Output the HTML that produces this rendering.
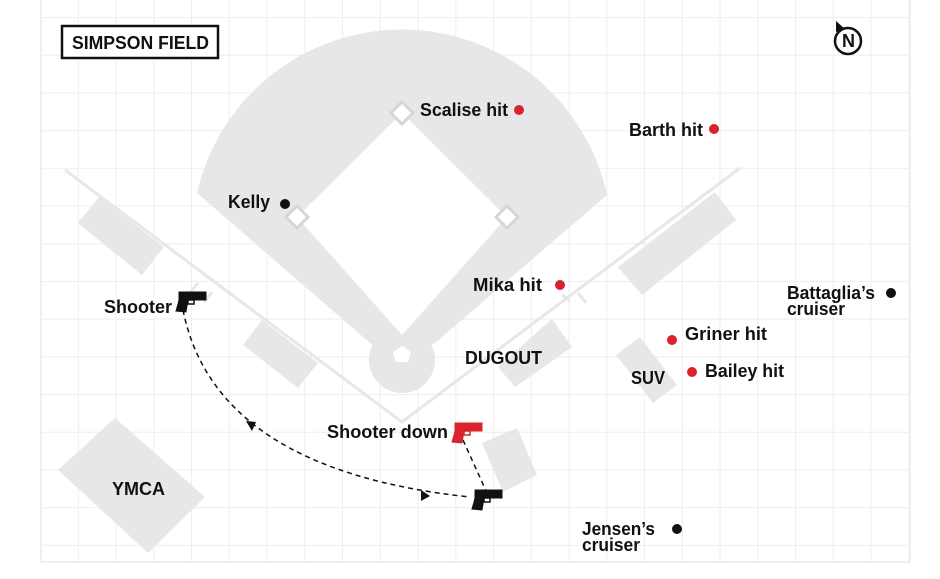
<!DOCTYPE html>
<html><head><meta charset="utf-8"><style>
html,body{margin:0;padding:0;background:#fff}
svg{display:block}
text{font-family:"Liberation Sans",sans-serif;font-size:18px;fill:#111;font-weight:bold}
</style></head><body>
<svg width="940" height="579" viewBox="0 0 940 579" xmlns="http://www.w3.org/2000/svg">
<defs>
<pattern id="g" x="40" y="17" width="37.75" height="37.7" patternUnits="userSpaceOnUse">
<path d="M0 0V37.7M0 0H37.75" stroke="#efefef" stroke-width="2.2" fill="none"/>
</pattern>
<g id="gun">
<path d="M3 0H30V8H3Z"/>
<path d="M3 8H12L10 20L0 19L2 12Z"/>
<path d="M12 8H18V12H12Z" fill="none" stroke-width="1.5"/>
</g>
</defs>
<rect x="40" y="0" width="871" height="563" fill="url(#g)"/>
<rect x="40" y="0" width="2" height="563" fill="#efefef"/>
<rect x="909" y="0" width="2" height="563" fill="#efefef"/>
<rect x="40" y="561" width="871" height="2" fill="#efefef"/>

<path d="M65 170L402 422L740 168" stroke="#e6e7e8" stroke-width="3" fill="none"/>
<path d="M198 283l-8 10M212 292l-8 10M578 293l8 10M570 301l-8-6" stroke="#e6e7e8" stroke-width="3"/>

<path d="M197 193A210 210 0 0 1 607 195L435 343L402 360L370 343Z" fill="#e6e7e8"/>
<circle cx="402" cy="360" r="33" fill="#e6e7e8"/>
<path d="M402 113L507 217L402 335L297 217Z" fill="#fff"/>
<path d="M402 346l9 6-3 10h-12l-3-10z" fill="#fff"/>
<g fill="#fff" stroke="#d5d6d7" stroke-width="3">
<path d="M402 102l11 11-11 11-11-11z"/>
<path d="M297 206l11 11-11 11-11-11z"/>
<path d="M507 206l11 11-11 11-11-11z"/>
</g>

<g fill="#e6e7e8">
<path d="M78 223L99 197L164 247L142 275Z"/>
<path d="M243 345L262 320L318 363L298 388Z"/>
<path d="M498 367L552 319L572 347L515 387Z"/>
<path d="M618 267L715 192L736 220L642 295Z"/>
<path d="M616 355L640 337L677 385L653 403Z"/>
<path d="M58 470L115 418L205 497L148 553Z"/>
<path d="M482 443L517 428L537 475L503 492Z"/>
</g>

<path d="M183 310Q215 470 470 497" stroke="#111" stroke-width="1.5" stroke-dasharray="5 4" fill="none"/>
<path d="M463 440L487 493" stroke="#111" stroke-width="1.5" stroke-dasharray="5 4" fill="none"/>
<path d="M246 421l10 1-4 9z" fill="#111"/>
<path d="M421 490l9 6-9 5z" fill="#111"/>

<g fill="#111" stroke="#111" transform="translate(176,292)"><use href="#gun"/></g>
<g fill="#d9232d" stroke="#d9232d" transform="translate(452,423)"><use href="#gun"/></g>
<g fill="#111" stroke="#111" transform="translate(472,490)"><use href="#gun"/></g>

<g fill="#d9232d">
<circle cx="519" cy="110" r="5"/><circle cx="714" cy="129" r="5"/><circle cx="560" cy="285" r="5"/>
<circle cx="672" cy="340" r="5"/><circle cx="692" cy="372" r="5"/>
</g>
<g fill="#111">
<circle cx="285" cy="204" r="5"/><circle cx="891" cy="293" r="5"/><circle cx="677" cy="529" r="5"/>
</g>

<rect x="62" y="26" width="156" height="32" fill="#fff" stroke="#111" stroke-width="2.5"/>
<text x="72" y="49" font-size="17" textLength="137" lengthAdjust="spacingAndGlyphs">SIMPSON FIELD</text>

<circle cx="848" cy="41" r="13" fill="#fff" stroke="#111" stroke-width="2.5"/>
<path d="M836 21l0 11 9-3z" fill="#111"/>
<text x="842" y="47" font-size="13">N</text>

<g>
<text x="420" y="116" textLength="88" lengthAdjust="spacingAndGlyphs">Scalise hit</text>
<text x="629" y="136" textLength="74" lengthAdjust="spacingAndGlyphs">Barth hit</text>
<text x="228" y="208" textLength="42" lengthAdjust="spacingAndGlyphs">Kelly</text>
<text x="473" y="291" textLength="69" lengthAdjust="spacingAndGlyphs">Mika hit</text>
<text x="104" y="313" textLength="68" lengthAdjust="spacingAndGlyphs">Shooter</text>
<text x="787" y="299" textLength="88" lengthAdjust="spacingAndGlyphs">Battaglia’s</text>
<text x="787" y="315" textLength="58" lengthAdjust="spacingAndGlyphs">cruiser</text>
<text x="685" y="340" textLength="82" lengthAdjust="spacingAndGlyphs">Griner hit</text>
<text x="705" y="377" textLength="79" lengthAdjust="spacingAndGlyphs">Bailey hit</text>
<text x="631" y="384" textLength="34" lengthAdjust="spacingAndGlyphs" font-weight="normal">SUV</text>
<text x="465" y="364" textLength="77" lengthAdjust="spacingAndGlyphs" font-weight="normal">DUGOUT</text>
<text x="327" y="438" textLength="121" lengthAdjust="spacingAndGlyphs">Shooter down</text>
<text x="112" y="495" textLength="53" lengthAdjust="spacingAndGlyphs" font-weight="normal">YMCA</text>
<text x="582" y="535" textLength="73" lengthAdjust="spacingAndGlyphs">Jensen’s</text>
<text x="582" y="551" textLength="58" lengthAdjust="spacingAndGlyphs">cruiser</text>
</g>
</svg>
</body></html>
